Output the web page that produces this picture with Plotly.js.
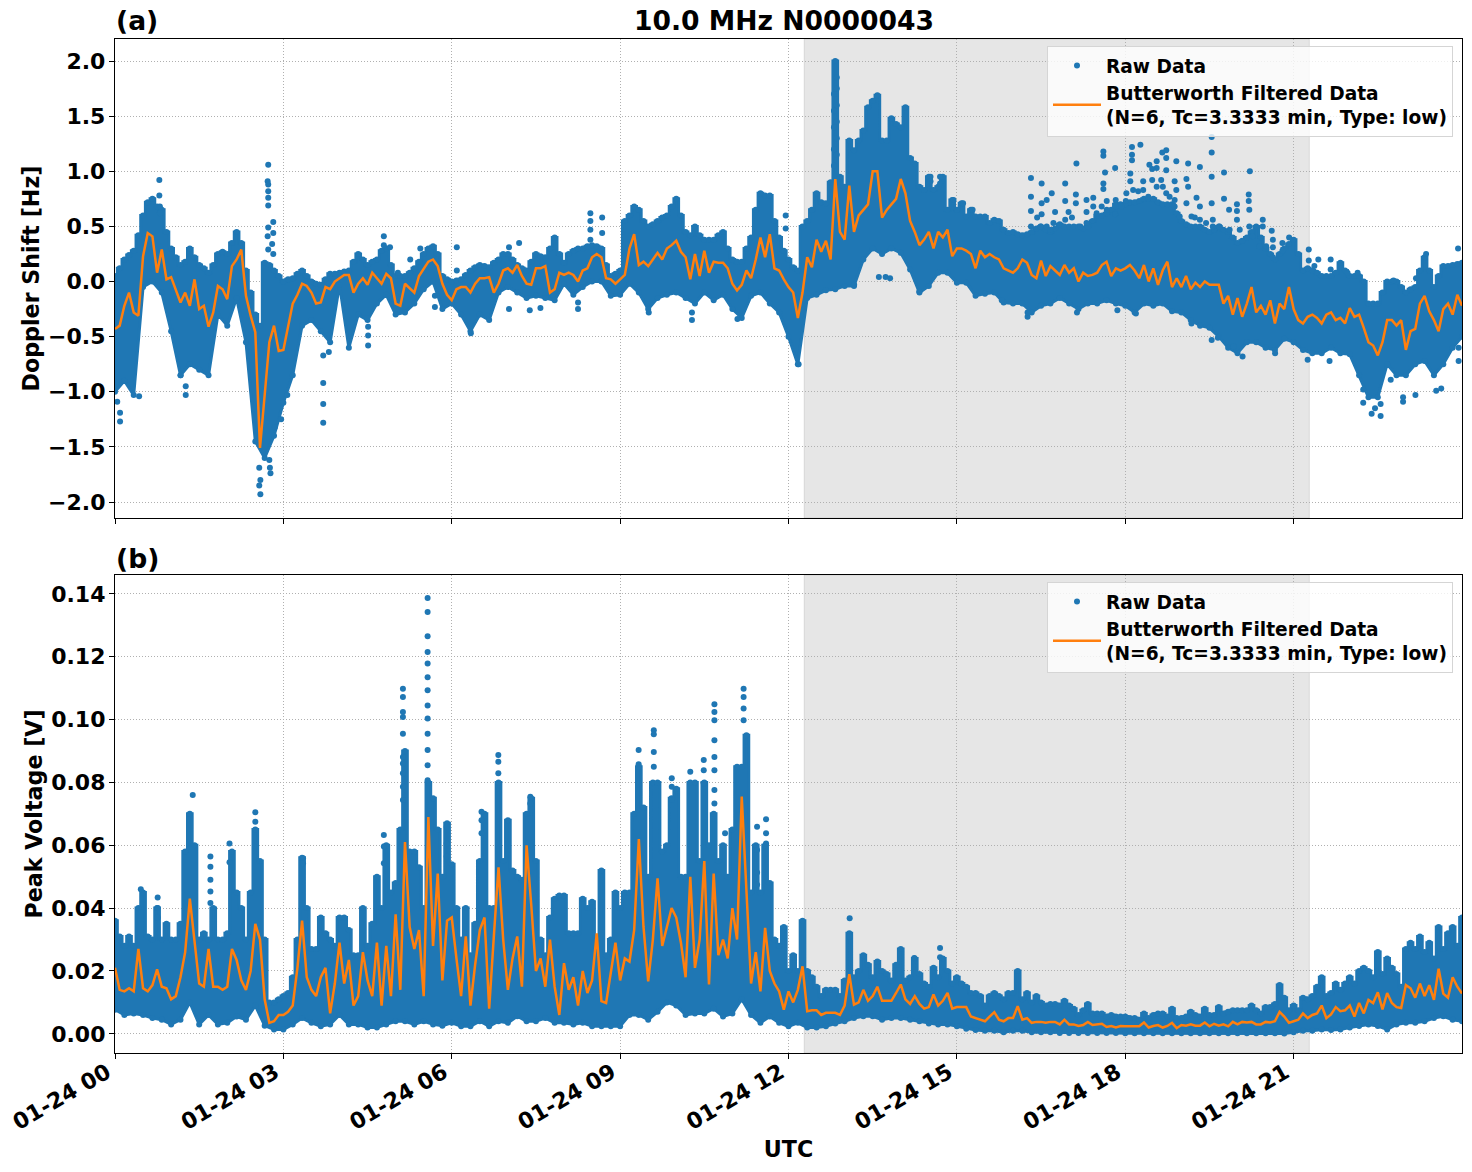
<!DOCTYPE html>
<html><head><meta charset="utf-8">
<script src="https://cdn.plot.ly/plotly-3.0.1.min.js"></script>
<style>html,body{margin:0;padding:0;background:#fff}#c{width:1472px;height:1172px}</style>
</head><body><div id="c"></div>
<script>
// Grids: 5 minutes for upper hull and filtered curve, 10 minutes for lower hull.
const dopplerUpper = [
.05,.12,.2,.24,.28,.42,.6,.72,.75,.68,.65,.45,
.3,.22,.15,.18,.3,.22,.15,.12,.08,.15,.25,.27,
.25,.35,.45,.35,.1,-.1,-.3,-.4,.17,.15,.1,.05,
0,.02,.03,.07,.1,.05,0,-.02,-.03,.02,.07,.07,
.08,.09,.1,.18,.25,.2,.15,.18,.2,.28,.3,.15,
.05,.05,.05,.08,.12,.18,.25,.3,.32,.25,.05,.02,
0,.01,.02,.06,.1,.13,.15,.14,.13,.17,.2,.25,
.25,.2,.15,.12,.1,.18,.25,.23,.22,.3,.4,.25,
.17,.25,.28,.3,.3,.32,.33,.32,.3,.15,.05,.07,
.1,.55,.6,.68,.65,.55,.5,.52,.55,.58,.6,.68,
.75,.6,.45,.42,.5,.42,.38,.38,.38,.42,.45,.3,
.2,.18,.18,.3,.4,.65,.8,.78,.78,.55,.4,.28,
.2,.13,.1,.5,.55,.65,.8,.72,.71,.9,2.0,.95,
.86,1.28,1.19,1.28,1.37,1.58,1.64,1.69,1.28,1.28,1.48,1.43,
1.4,1.58,1.12,1.07,.86,.83,.95,.83,.86,.95,.65,.74,
.65,.71,.59,.65,.59,.59,.59,.53,.56,.55,.47,.44,
.45,.43,.42,.43,.45,.48,.5,.47,.45,.48,.52,.5,
.5,.5,.5,.48,.5,.55,.6,.6,.62,.65,.7,.7,
.7,.72,.72,.73,.75,.75,.75,.72,.7,.7,.7,.62,
.55,.52,.5,.5,.5,.47,.45,.47,.5,.47,.45,.4,
.35,.37,.4,.45,.5,.4,.3,.25,.2,.25,.3,.34,
.38,.25,.1,.12,.1,.08,.05,.05,.05,.08,.17,.1,
.05,.05,.05,0,-.2,-.2,-.2,-.1,0,0,0,-.05,
-.1,-.07,-.05,.1,.22,.1,-.05,.05,.14,.14,.15,.16,
.17];
const dopplerLower = [
-1.0,-.9,-1.03,-.05,0,-.1,
-.45,-.85,-.75,-.8,-.85,-.3,
-.4,-.15,-.55,-1.45,-1.6,-1.4,
-1.1,-.85,-.4,-.35,-.45,-.55,
-.03,-.6,-.3,-.35,-.2,-.12,
-.3,-.28,-.2,-.07,0,-.25,
-.2,-.3,-.45,-.3,-.35,-.1,
-.05,-.1,-.15,-.13,-.15,-.17,
-.02,-.12,-.05,0,0,-.13,
-.12,-.02,-.1,-.25,-.15,-.12,
-.1,-.15,-.2,-.1,-.17,-.12,
-.25,-.33,-.13,-.1,-.2,-.28,
-.5,-.75,-.15,-.12,-.08,-.07,
-.04,-.04,.2,.3,.25,.3,
.26,.11,-.1,-.04,.08,.08,
-.01,-.01,-.13,-.11,-.1,-.19,
-.2,-.2,-.28,-.22,-.2,-.15,
-.2,-.25,-.2,-.2,-.17,-.2,
-.22,-.28,-.2,-.22,-.2,-.27,
-.28,-.35,-.4,-.42,-.5,-.6,
-.65,-.55,-.55,-.6,-.62,-.52,
-.55,-.62,-.65,-.65,-.6,-.65,
-.66,-.85,-1.05,-1.05,-.75,-.85,
-.85,-.75,-.72,-.85,-.75,-.6,
-.5];
const dopplerFiltered = [
-.43,-.4,-.22,-.1,-.28,-.31,.23,.44,.41,.08,.29,.02,
.04,-.07,-.19,-.1,-.22,.02,-.25,-.22,-.41,-.28,-.04,-.07,
-.16,.14,.2,.29,-.13,-.31,-.46,-1.51,-1.0,-.55,-.4,-.63,
-.62,-.42,-.2,-.12,-.02,-.04,-.1,-.2,-.19,-.05,-.07,0,
.03,.06,.06,-.1,-.02,.03,-.03,.08,.03,-.02,.07,.03,
-.2,-.22,-.02,-.06,-.1,.05,.12,.18,.2,.14,-.02,-.12,
-.17,-.07,-.05,-.05,-.1,-.02,.03,.03,.04,-.1,-.02,.1,
.12,.08,.15,.05,-.02,-.03,.12,.12,.14,-.1,-.07,.08,
.06,.08,.06,0,.1,.12,.22,.25,.22,.03,.02,-.02,
.02,.06,.3,.43,.15,.18,.14,.2,.26,.2,.3,.33,
.37,.27,.22,.02,.25,.05,.28,.08,.18,.17,.17,.12,
-.02,-.08,-.03,.1,.03,.2,.4,.22,.43,.12,.1,.02,
-.05,-.1,-.33,-.1,.22,.13,.38,.27,.37,.2,.93,.45,
.38,.87,.45,.6,.65,.7,1.0,1.0,.58,.65,.7,.75,
.93,.8,.55,.45,.33,.38,.45,.3,.45,.4,.47,.23,
.3,.3,.28,.25,.12,.28,.22,.25,.22,.2,.12,.1,
.08,.12,.2,.17,.06,.03,.19,.05,.14,.1,.06,.15,
.08,.12,0,.08,.05,.06,.08,.15,.18,.05,.12,.1,
.12,.15,.1,.03,.15,0,.12,-.03,.1,.18,-.05,.03,
-.05,.05,-.07,-.01,-.05,0,-.03,-.03,-.03,-.2,-.13,-.3,
-.15,-.32,-.2,-.05,-.28,-.22,-.3,-.17,-.38,-.2,-.25,-.05,
-.25,-.35,-.38,-.32,-.3,-.33,-.38,-.3,-.28,-.35,-.33,-.38,
-.24,-.32,-.3,-.42,-.55,-.58,-.67,-.55,-.35,-.35,-.4,-.35,
-.62,-.45,-.43,-.2,-.13,-.27,-.35,-.45,-.25,-.2,-.3,-.12,
-.22];
const dopplerDotHours = [.79,.79,.8,.8,2.73,2.72,2.73,2.73,2.73,2.73,2.82,2.73,2.82,2.72,2.8,2.73,2.82,1.17,1.26,1.26,.09,.09,.04,.43,
2.59,2.57,2.59,2.75,2.76,2.77,2.57,3.71,3.71,3.71,3.81,3.71,2.96,3.07,2.85,4.51,4.51,4.51,4.49,4.79,4.79,4.9,5.04,6.09,6.09,5.44,5.26,5.7,5.7,6.34,
7.02,7.2,7.39,7.58,7.02,8.47,8.47,8.47,8.68,8.68,8.47,8.25,8.25,10.28,10.28,9.51,11.09,11.95,11.95,12.18,13.61,13.73,13.81,13.17,14.33,14.94,15.11,15.28,14.53,14.7,14.53,14.7,15.8,
12.86,12.86,12.86,12.86,12.86,12.86,12.81,12.81,12.81,12.81,12.81,
19.54,19.54,19.54,20.22,20.2,20.2,20.21,18.27,18.12,18.12,18.12,17.61,17.61,17.13,16.32,16.51,16.93,17.82,17.64,17.61,17.61,18.09,18.09,18.43,18.56,18.56,18.73,18.66,18.73,18.73,18.91,19.12,19.33,19.76,18.48,18.32,18.48,18.64,18.88,19.09,19.12,18.91,19.27,19.54,19.76,19.99,19.99,19.99,19.85,19.33,19.24,19.56,16.69,16.6,16.51,16.32,16.32,16.32,16.51,16.75,16.99,16.93,17.12,17.12,17.31,17.43,17.43,17.31,17.67,17.83,17.83,18.01,20.45,20.61,20.45,20.92,20.8,20.8,20.63,20.63,21.27,21.27,21.44,21.37,21.66,21.66,21.96,22.14,22.78,23.18,23.36,23.93,
18.02,18.14,18.23,18.32,18.41,18.56,18.67,18.73,18.79,18.88,18.88,18.97,19.09,19.18,19.33,19.44,19.56,19.68,19.86,20.04,20.21,20.27,20.39,20.51,20.63,17.58,17.49,17.31,17.2,17.05,16.93,16.72,16.6,16.49,16.43,16.66,17.67,17.82,17.93,
16.26,16.26,17.14,17.86,18.19,19.18,19.54,19.65,19.93,20.09,20.67,21.25,21.64,22.24,22.24,22.39,22.45,22.55,22.55,22.73,22.95,22.95,23.17,23.54,23.63,23.94,23.94];
const dopplerDotValues = [.92,.78,.68,.62,1.06,.91,.88,.82,.76,.69,.54,.49,.44,.41,.34,.29,.25,-.85,-.95,-1.03,-1.19,-1.27,-1.09,-1.04,
-1.93,-1.85,-1.8,-1.62,-1.69,-1.74,-1.69,-.92,-1.11,-1.28,-.64,-.67,-1.25,-1.03,-1.32,-.58,-.49,-.41,-.33,.41,.33,.31,.08,.31,.1,.3,.2,-.13,-.23,-.47,
.31,.35,-.26,-.24,-.25,.62,.55,.47,.58,.44,.38,-.25,-.19,-.35,-.28,-.28,-.34,.6,.48,-.75,.04,.04,.03,-.03,-.09,.74,.71,.65,.95,.95,.91,.89,-.17,
1.85,1.75,1.6,1.45,1.3,1.15,1.7,1.55,1.4,1.2,1.05,
1.31,1.17,.95,1.0,.79,.73,.65,1.24,1.22,1.15,1.1,1.18,1.14,1.07,.94,.89,.89,1.03,.99,.89,.84,.98,.91,1.06,1.09,1.03,1.19,1.17,1.12,1.01,1.09,1.07,1.04,.99,1.02,.91,.92,.92,.91,.93,.86,.83,.76,.71,.75,.7,.64,.56,.65,.68,.58,.56,.8,.74,.71,.77,.64,.5,.61,.63,.63,.73,.79,.71,.74,.76,.68,.63,.73,.74,.68,.73,.56,.46,.5,.4,.35,.28,.31,.22,.29,.19,.2,.14,.2,.11,.08,.08,.01,.03,.25,.3,
.8,.83,.82,.83,.77,.86,.86,.8,.77,.74,.68,.59,.71,.59,.56,.53,.5,.5,.47,.47,.5,.41,.32,.32,.38,.68,.62,.53,.5,.58,.56,.53,.5,.5,.58,.47,.65,.61,.68,
-.32,-.28,-.28,-.26,-.29,-.38,-.53,-.51,-.59,-.68,-.65,-.71,-.72,-.98,-1.1,-1.2,-1.15,-1.22,-1.11,-.89,-1.09,-1.05,-1.03,-.99,-.97,-.72,-.6];

const voltageUpper = [
.036,.031,.028,.031,.028,.04,.045,.031,.03,.04,.03,.035,
.03,.03,.035,.058,.07,.06,.03,.032,.03,.04,.03,.03,
.032,.058,.045,.04,.03,.045,.065,.055,.03,.01,.01,.011,
.012,.013,.018,.03,.056,.04,.027,.027,.037,.032,.03,.028,
.037,.037,.033,.025,.025,.04,.028,.035,.05,.04,.06,.045,
.048,.065,.09,.058,.058,.053,.04,.08,.075,.065,.05,.067,
.054,.04,.03,.04,.025,.035,.055,.07,.04,.04,.08,.055,
.068,.052,.05,.049,.07,.075,.055,.03,.025,.037,.043,.044,
.044,.032,.032,.032,.043,.04,.042,.03,.052,.025,.03,.045,
.04,.045,.045,.07,.085,.072,.05,.08,.08,.058,.06,.075,
.078,.05,.05,.08,.08,.055,.08,.06,.07,.055,.06,.05,
.065,.085,.085,.095,.045,.06,.045,.06,.048,.03,.028,.034,
.02,.025,.02,.036,.02,.018,.015,.012,.014,.014,.014,.012,
.017,.032,.018,.02,.025,.022,.018,.023,.02,.019,.017,.022,
.027,.017,.018,.024,.019,.016,.015,.021,.018,.024,.02,.016,
.018,.016,.015,.013,.013,.012,.009,.012,.013,.012,.011,.013,
.013,.02,.011,.013,.01,.012,.01,.009,.0095,.0095,.009,.0105,
.009,.008,.006,.0075,.0095,.0065,.0065,.0065,.0055,.006,.0055,.0055,
.0055,.005,.005,.0045,.0065,.005,.006,.0065,.0065,.0055,.008,.005,
.005,.0055,.007,.006,.0055,.008,.006,.006,.0085,.0065,.007,.0075,
.0075,.0075,.0075,.009,.0075,.0065,.0085,.0085,.0095,.0155,.0115,.0075,
.009,.0075,.0115,.011,.012,.015,.018,.012,.013,.016,.014,.016,
.018,.016,.02,.021,.02,.018,.026,.019,.024,.021,.019,.015,
.027,.029,.027,.031,.026,.029,.024,.034,.027,.032,.034,.028,
.037];
const voltageLower = [
.0077,.006,.0065,.006,.005,.0045,
.003,.0045,.01,.003,.006,.003,
.0035,.0055,.0045,.009,.0026,.0014,
.0014,.003,.005,.0035,.0024,.003,
.006,.003,.003,.002,.002,.003,
.004,.004,.003,.004,.003,.0026,
.0035,.0024,.0024,.004,.0024,.004,
.0035,.0056,.004,.004,.005,.0035,
.0035,.003,.0035,.0024,.0024,.0024,
.0024,.006,.006,.0045,.007,.01,
.009,.006,.0065,.0065,.008,.0055,
.0065,.011,.006,.0035,.0055,.0035,
.0024,.0035,.002,.002,.0024,.0033,
.004,.005,.0056,.0056,.0045,.005,
.005,.0045,.004,.0033,.003,.003,
.0024,.0016,.0012,.001,.001,.0005,
.001,.001,.0005,.0005,.0005,.0003,
.0003,.0003,.0003,.0003,.0003,.0003,
.0002,.0002,.0002,.0002,.0002,.0002,
.0002,.0002,.0002,.0002,.0002,.0002,
.0002,.0002,.0002,.0002,.0002,.0001,
.0005,.001,.001,.0014,.0012,.0014,
.002,.0025,.003,.0025,.0014,.003,
.0035,.0035,.004,.005,.0056,.0045,
.004];
const voltageFiltered = [
.021,.014,.0135,.0145,.0135,.027,.0145,.0135,.0155,.0205,.015,.0145,
.011,.012,.018,.026,.043,.03,.016,.015,.027,.015,.015,.014,
.015,.027,.0235,.017,.014,.02,.035,.03,.011,.0035,.004,.006,
.006,.007,.009,.021,.036,.018,.014,.012,.018,.021,.0065,.016,
.029,.016,.0235,.009,.012,.026,.017,.012,.029,.009,.028,.012,
.038,.014,.061,.034,.027,.033,.012,.069,.028,.051,.017,.036,
.037,.024,.012,.031,.009,.022,.033,.037,.008,.031,.053,.03,
.014,.024,.031,.015,.06,.041,.02,.024,.015,.03,.015,.006,
.0225,.014,.018,.009,.02,.013,.017,.032,.0104,.0098,.02,.029,
.017,.024,.023,.033,.062,.034,.0167,.03,.0495,.028,.034,.04,
.037,.029,.018,.05,.021,.03,.055,.0157,.051,.025,.03,.024,
.04,.03,.0755,.045,.016,.026,.0135,.0337,.02,.016,.0135,.0077,
.0135,.01,.014,.0215,.0072,.0075,.0075,.006,.0067,.0067,.0067,.006,
.009,.019,.0093,.01,.014,.0105,.012,.015,.0105,.0105,.0105,.013,
.0157,.011,.0095,.012,.0095,.008,.0085,.0125,.009,.0105,.013,.008,
.0085,.0085,.0085,.0055,.005,.0045,.004,.0055,.0069,.0045,.004,.005,
.005,.0088,.0045,.005,.0035,.0038,.0038,.0035,.0038,.0038,.003,.0045,
.003,.003,.0025,.0028,.0038,.0028,.003,.0032,.0022,.0025,.002,.0025,
.0024,.0024,.0024,.0024,.0036,.002,.0025,.0028,.002,.0025,.0035,.0018,
.0028,.0026,.003,.0026,.0026,.0036,.0024,.0032,.0026,.003,.0024,.0038,
.003,.0038,.0036,.0038,.003,.003,.0038,.0036,.004,.007,.0055,.0035,
.004,.0045,.0065,.005,.006,.0065,.009,.005,.0062,.0085,.0072,.0075,
.009,.0055,.0098,.0065,.0108,.0098,.0132,.0078,.013,.0098,.0085,.0082,
.0155,.0145,.0115,.016,.012,.0155,.0108,.0207,.0128,.0115,.018,.015,
.0128];
const voltageDotHours = [5.57,5.57,5.57,5.57,5.57,5.57,5.57,5.57,5.57,5.57,5.57,5.57,5.57,
5.13,5.13,5.13,5.13,5.13,5.13,5.13,5.13,5.13,5.13,6.83,6.83,6.83,1.385,2.5,2.5,2.04,2.04,
1.7,1.7,1.7,1.7,1.7,.76,.76,.76,.46,3.35,3.35,4.79,4.79,4.79,5.91,5.91,5.91,6.53,6.53,6.53,7.4,7.4,
9.33,9.33,9.6,9.6,9.6,9.6,9.92,9.92,9.92,10.25,10.49,10.49,10.49,
10.68,10.68,10.68,10.68,10.68,10.68,10.68,10.68,11.2,11.2,11.2,11.2,
11.44,11.44,11.44,11.44,11.6,11.6,11.6,10.87,13.09,13.09,14.7,14.7,14.24];
const voltageDotValues = [.1387,.1342,.1265,.1215,.1178,.1135,.1093,.1045,.1003,.0955,.0903,.0855,.0807,
.1098,.1072,.1024,.1008,.0955,.0881,.086,.0829,.0786,.0744,.0887,.0866,.0829,.076,.0705,.0675,.0606,.0546,
.0564,.0532,.049,.0453,.0416,.0434,.04,.037,.046,.0559,.0543,.0633,.0596,.0543,.0659,.0606,.0564,.0707,.068,.0638,.0754,.0733,
.0903,.0858,.0966,.0953,.0897,.085,.0813,.0786,.0744,.0834,.0871,.0839,.0797,
.1049,.1024,.0998,.0934,.0881,.0839,.0776,.0733,.1098,.1072,.1035,.0998,
.0659,.0585,.0513,.0474,.0683,.0638,.0606,.0638,.0368,.031,.0273,.0244,.0241];

const shadeStartHour = 12.28, shadeEndHour = 21.28;
const tickHours = [0,3,6,9,12,15,18,21];
const seriesNames = ['Raw Data', 'Butterworth Filtered Data<br>(N=6, Tc=3.3333 min, Type: low)'];
const panelLabels = ['(a)','(b)'];
const chartTitle = '10.0 MHz N0000043';

const BLUE='#1f77b4', ORANGE='#ff7f0e', W=1472, H=1172;
const stamp = h => { const ms = Date.UTC(2024,0,24) + h*3600000; return new Date(ms).toISOString().slice(0,19).replace('T',' '); };
const gridTimes = (n,stepMin) => Array.from({length:n},(_,i)=>stamp(i*stepMin/60));
const tFont = s => ({family:'DejaVu Sans',size:s,color:'#000',weight:700});

function panel(upper,lower,filtered,dotH,dotV,xa,ya,leg){
  return [
    {x:gridTimes(lower.length,10), y:lower, xaxis:xa, yaxis:ya, mode:'lines+markers',
     line:{color:BLUE,width:3}, marker:{color:BLUE,size:6}, showlegend:false, hoverinfo:'skip'},
    {x:gridTimes(upper.length,5), y:upper, xaxis:xa, yaxis:ya, mode:'lines+markers',
     fill:'tonexty', fillcolor:BLUE, line:{color:BLUE,width:3,shape:'hvh'}, marker:{color:BLUE,size:6}, showlegend:false, hoverinfo:'skip'},
    {x:dotH.map(stamp), y:dotV, xaxis:xa, yaxis:ya, mode:'markers', name:seriesNames[0], legend:leg,
     marker:{color:BLUE,size:6}},
    {x:gridTimes(filtered.length,5), y:filtered, xaxis:xa, yaxis:ya, mode:'lines', name:seriesNames[1], legend:leg,
     line:{color:ORANGE,width:2.5}}
  ];
}
const data = panel(dopplerUpper,dopplerLower,dopplerFiltered,dopplerDotHours,dopplerDotValues,'x','y','legend')
  .concat(panel(voltageUpper,voltageLower,voltageFiltered,voltageDotHours,voltageDotValues,'x2','y2','legend2'));

const GRID='#b0b0b0', DASH='1px,2px';
const xRange=[stamp(0),stamp(24)];
const xBase = (labels)=>({type:'date',range:xRange,domain:[115/W,1462/W],tickmode:'array',
  tickvals:tickHours.map(stamp),ticktext:tickHours.map(h=>'01-24 '+String(h).padStart(2,'0')),
  showticklabels:labels,tickangle:-30,tickfont:tFont(22),ticks:'outside',ticklen:5,tickwidth:1.3,tickcolor:'#000',
  ticklabelshift:-8,ticklabelstandoff:-8,
  showline:true,mirror:true,linecolor:'#000',linewidth:1.3,showgrid:true,gridcolor:GRID,griddash:DASH,gridwidth:1,zeroline:false,automargin:false});
const yBase = (range,dom,tv,fmt,title,standoff)=>({range,domain:dom,tickmode:'array',tickvals:tv,ticktext:tv.map(v=>v.toFixed(fmt).replace('-','\u2212')),
  tickfont:tFont(22),ticks:'outside',ticklen:5,tickwidth:1.3,tickcolor:'#000',ticklabelstandoff:-1,showline:true,mirror:true,linecolor:'#000',linewidth:1.3,
  showgrid:true,gridcolor:GRID,griddash:DASH,gridwidth:1,zeroline:false,automargin:false,
  title:{text:title,font:tFont(22.2),standoff}});
const legendBox = top => ({x:1453/W,xanchor:'right',y:1-top/H,yanchor:'top',bgcolor:'rgba(255,255,255,0.8)',bordercolor:'#d5d5d5',borderwidth:1,
  font:tFont(18.6),itemwidth:48,tracegroupgap:0,traceorder:'normal',itemclick:false});
const shade = (xr,yr)=>({type:'rect',xref:xr,yref:yr+' domain',x0:stamp(shadeStartHour),x1:stamp(shadeEndHour),y0:0,y1:1,layer:'below',
  fillcolor:'rgba(128,128,128,0.2)',line:{color:'rgba(128,128,128,0.2)',width:1}});
const lab = (t,py)=>({text:'<b>'+t+'</b>',xref:'paper',yref:'paper',x:114/W,y:1-py/H,xanchor:'left',yanchor:'middle',showarrow:false,font:{family:'DejaVu Sans',size:26.6,color:'#000'}});

const layout = {width:W,height:H,margin:{l:0,r:0,t:0,b:0},paper_bgcolor:'#fff',plot_bgcolor:'#fff',showlegend:true,
  title:{text:'<b>'+chartTitle+'</b>',x:784/W,xanchor:'center',xref:'paper',y:1-21/H,yanchor:'middle',yref:'paper',font:{family:'DejaVu Sans',size:26.6,color:'#000'}},
  xaxis:Object.assign(xBase(false),{anchor:'y'}),
  xaxis2:Object.assign(xBase(true),{anchor:'y2',title:{text:'UTC',font:tFont(22.2),standoff:7}}),
  yaxis:Object.assign(yBase([-2.145,2.2],[1-518/H,1-39/H],[-2,-1.5,-1,-.5,0,.5,1,1.5,2],1,'Doppler Shift [Hz]',2),{anchor:'x'}),
  yaxis2:Object.assign(yBase([-.0061,.146],[1-1053/H,1-575/H],[0,.02,.04,.06,.08,.1,.12,.14],2,'Peak Voltage [V]',2),{anchor:'x2'}),
  legend:legendBox(46),legend2:legendBox(582),
  shapes:[shade('x','y'),shade('x2','y2')],
  annotations:[lab(panelLabels[0],21),lab(panelLabels[1],558)]
};
Plotly.newPlot('c',data,layout,{displayModeBar:false,responsive:false});
</script></body></html>
